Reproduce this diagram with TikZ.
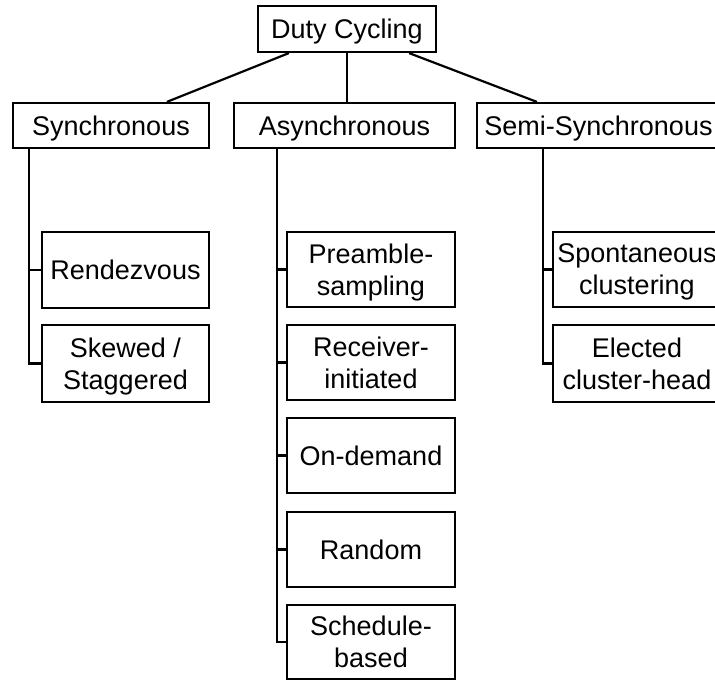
\documentclass[tikz,border=0pt]{standalone}
\usepackage{fontspec}
\setmainfont{Liberation Sans}
\begin{document}
\begin{tikzpicture}[x=1pt,y=-1pt,
  box/.style={draw, line width=2.2pt, inner sep=0pt, align=center,
    font=\fontsize{27}{32}\selectfont, text depth=0pt},
  lnk/.style={line width=2.2pt}]
\useasboundingbox (0,0) rectangle (715,680);
\clip (0,0) rectangle (715,680);
% top level
\node[box, minimum width=178pt, minimum height=46pt] (duty) at (347,29) {Duty Cycling};
\node[box, minimum width=196pt, minimum height=45pt] (sync) at (111,125.5) {Synchronous};
\node[box, minimum width=221pt, minimum height=45pt] (async) at (344.5,125.5) {Asynchronous};
\node[box, minimum width=243pt, minimum height=45pt] (semi) at (598.5,125.5) {Semi-Synchronous};
% synchronous children
\node[box, minimum width=167pt, minimum height=76pt] (rend) at (125.5,270) {Rendezvous};
\node[box, minimum width=167pt, minimum height=77pt] (skew) at (125.5,363.5) {Skewed /\\Staggered};
% asynchronous children
\node[box, minimum width=168pt, minimum height=75pt] (pre) at (371,269.5) {Preamble-\\sampling};
\node[box, minimum width=168pt, minimum height=75pt] (recv) at (371,362.5) {Receiver-\\initiated};
\node[box, minimum width=168pt, minimum height=75pt] (ond) at (371,455.5) {On-demand};
\node[box, minimum width=168pt, minimum height=75pt] (rand) at (371,549.5) {Random};
\node[box, minimum width=168pt, minimum height=74pt] (sched) at (371,642) {Schedule-\\based};
% semi-synchronous children
\node[box, minimum width=168pt, minimum height=75pt] (spon) at (637,269.5) {Spontaneous\\clustering};
\node[box, minimum width=168pt, minimum height=77pt] (elec) at (637,363.5) {Elected\\cluster-head};
% top connectors
\draw[lnk] ([xshift=32pt]duty.south west) -- ([xshift=155pt]sync.north west);
\draw[lnk] (duty.south) -- (duty.south |- async.north);
\draw[lnk] ([xshift=-28pt]duty.south east) -- ([xshift=61pt]semi.north west);
% trunk coordinates
\coordinate (st) at ([xshift=17pt]sync.south west);
\coordinate (at) at ([xshift=44pt]async.south west);
\coordinate (mt) at ([xshift=67pt]semi.south west);
% synchronous branch
\draw[lnk] (st) |- (skew.west);
\draw[lnk] (st |- rend.west) -- (rend.west);
% asynchronous branch
\draw[lnk] (at) |- (sched.west);
\draw[lnk] (at |- pre.west) -- (pre.west);
\draw[lnk] (at |- recv.west) -- (recv.west);
\draw[lnk] (at |- ond.west) -- (ond.west);
\draw[lnk] (at |- rand.west) -- (rand.west);
% semi-synchronous branch
\draw[lnk] (mt) |- (elec.west);
\draw[lnk] (mt |- spon.west) -- (spon.west);
\end{tikzpicture}
\end{document}
